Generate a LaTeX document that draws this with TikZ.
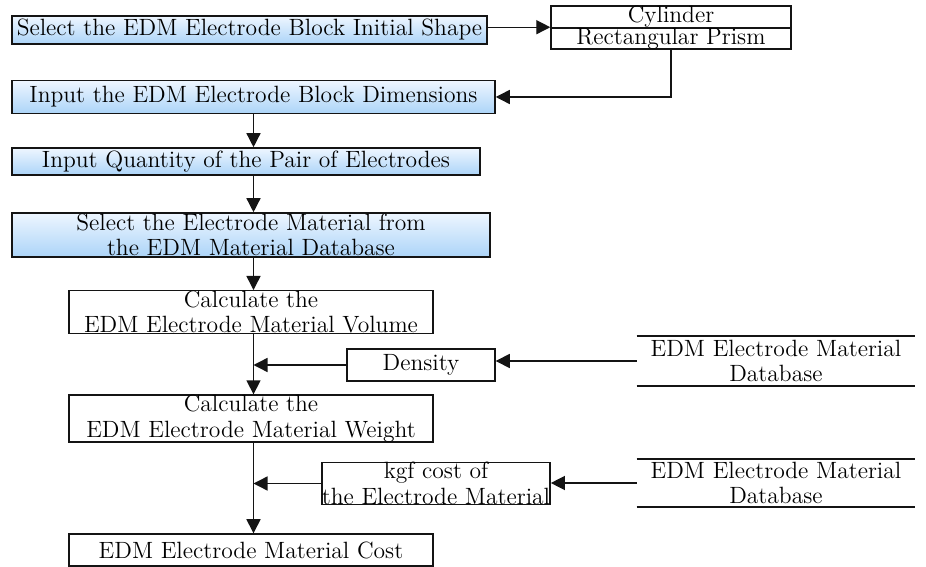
\documentclass[tikz,border=0pt]{standalone}
\usepackage{xcolor}
\usepackage{tikz}
\usetikzlibrary{arrows.meta, calc}
\definecolor{mydark}{RGB}{20,20,20}
\definecolor{boxtop}{RGB}{238,246,255}
\definecolor{boxbot}{RGB}{172,212,248}
\tikzset{
  stepblue/.style={rectangle, draw=mydark, top color=boxtop, bottom color=boxbot,
    align=center, inner sep=0pt, font=\fontsize{13.4}{14.5}\selectfont, line width=0.9pt},
  stepbox/.style={rectangle, draw=mydark, fill=white,
    align=center, inner sep=0pt, font=\fontsize{13.4}{14.5}\selectfont, line width=0.8pt},
  dbase/.style={rectangle, align=center, inner sep=0pt,
    font=\fontsize{13.4}{14.5}\selectfont},
  arrow/.style={-{Triangle[length=8pt, width=8pt]}, line width=0.8pt, color=mydark},
  line/.style={line width=0.8pt, color=mydark}
}

\begin{document}
\begin{tikzpicture}[x=0.02cm, y=-0.02cm]
  \useasboundingbox (0,0) rectangle (926,567);

  % Input steps
  \node[stepblue, minimum width=9.5cm, minimum height=0.56cm] (sel) at (249.5,30)
    {Select the EDM Electrode Block Initial Shape};
  \node[stepblue, minimum width=9.66cm, minimum height=0.66cm] (dim) at (253.5,97)
    {Input the EDM Electrode Block Dimensions};
  \node[stepblue, minimum width=9.36cm, minimum height=0.54cm] (qty) at (246,161.5)
    {Input Quantity of the Pair of Electrodes};
  \node[stepblue, minimum width=9.56cm, minimum height=0.88cm] (mat) at (251,235)
    {Select the Electrode Material from\\the EDM Material Database};

  % Shape choice
  \node[stepbox, minimum width=4.8cm, minimum height=0.44cm] (cyl) at (671,17) {Cylinder};
  \node[stepbox, minimum width=4.8cm, minimum height=0.42cm] (prism) at (671,38.5) {Rectangular Prism};

  % Calculation steps
  \node[stepbox, minimum width=7.28cm, minimum height=0.76cm] (vol) at (251,312)
    {Calculate the\\EDM Electrode Material Volume};
  \node[stepbox, minimum width=7.28cm, minimum height=0.78cm] (wgt) at (251,418.5)
    {Calculate the\\EDM Electrode Material Weight};
  \node[stepbox, minimum width=7.28cm, minimum height=0.64cm] (cost) at (251,550)
    {EDM Electrode Material Cost};

  % Side inputs
  \node[stepbox, minimum width=2.96cm, minimum height=0.64cm] (den) at (421,365) {Density};
  \node[stepbox, minimum width=4.56cm, minimum height=0.74cm] (kgf) at (436,483.5)
    {kgf cost of\\the Electrode Material};

  % Databases
  \node[dbase, minimum width=5.56cm, minimum height=1.0cm] (db1) at (776,361)
    {EDM Electrode Material\\Database};
  \node[dbase, minimum width=5.56cm, minimum height=0.96cm] (db2) at (776,483)
    {EDM Electrode Material\\Database};
  \draw[line, line width=1.1pt] (db1.north west) -- (db1.north east);
  \draw[line, line width=1.1pt] (db1.south west) -- (db1.south east);
  \draw[line, line width=1.1pt] (db2.north west) -- (db2.north east);
  \draw[line, line width=1.1pt] (db2.south west) -- (db2.south east);

  % Connectors
  \coordinate (spine) at (253.5,0);
  \draw[arrow] (sel.east |- prism.north) -- (prism.north west);
  \draw[arrow] (prism.south) |- (dim.east);
  \draw[arrow] (spine |- dim.south) -- (spine |- qty.north);
  \draw[arrow] (spine |- qty.south) -- (spine |- mat.north);
  \draw[arrow] (spine |- mat.south) -- (spine |- vol.north);
  \draw[arrow] (spine |- vol.south) -- (spine |- wgt.north);
  \draw[arrow] (spine |- wgt.south) -- (spine |- cost.north);
  \draw[arrow] (den.west) -- (spine |- den.west);
  \draw[arrow] (kgf.west) -- (spine |- kgf.west);
  \draw[arrow] (db1.west) -- (db1.west -| den.east);
  \draw[arrow] (db2.west) -- (db2.west -| kgf.east);
\end{tikzpicture}
\end{document}
